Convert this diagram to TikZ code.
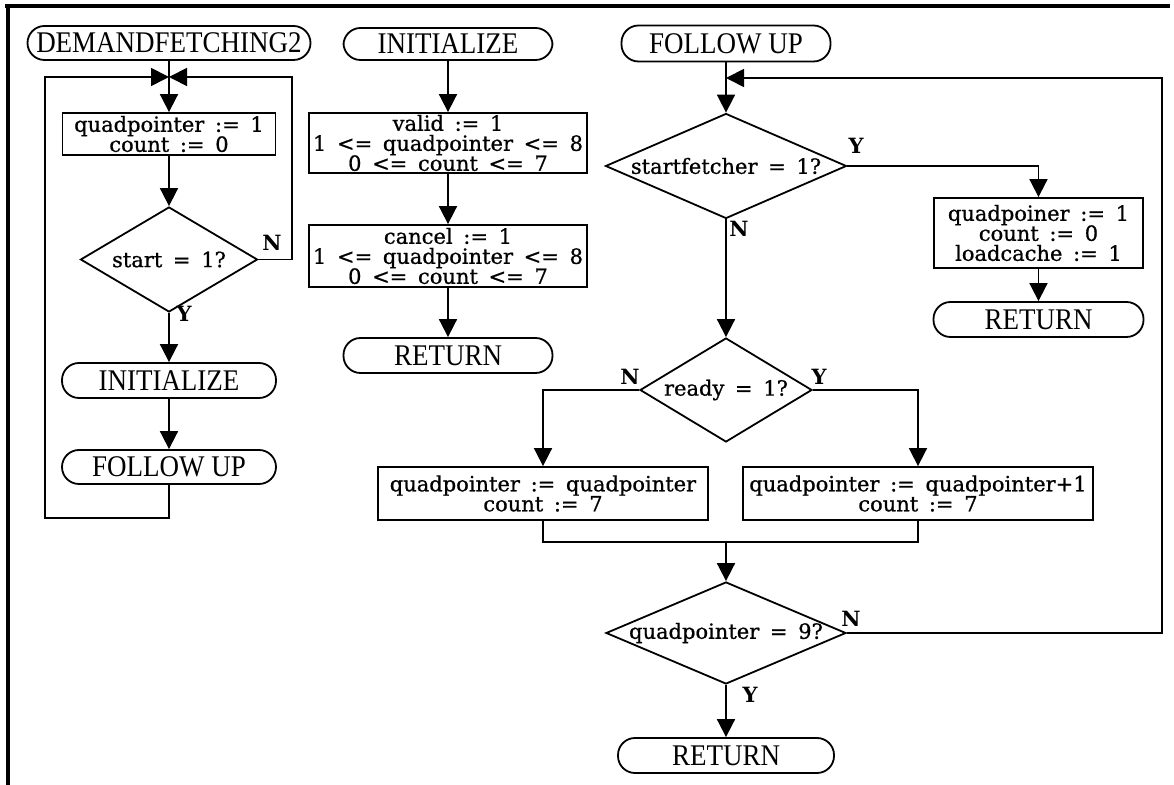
\documentclass[tikz,border=0pt]{standalone}
\usepackage{fontspec}
\setmainfont{DejaVu Serif}
\newfontfamily\termfont{Liberation Serif}[FakeStretch=0.9]
\newfontfamily\boxfont{DejaVu Serif}[FakeBold=0.8,WordSpace=1.6]
\usetikzlibrary{shapes.geometric,arrows.meta}

\tikzset{
  flow/.style={line width=0.9pt},
  arr/.style={flow,-{Triangle[length=9pt,width=9pt]}},
  term/.style={draw,flow,rectangle,rounded corners=8.5pt,inner sep=0pt,
    font=\termfont\fontsize{15}{15}\selectfont},
  procbox/.style={draw,flow,rectangle,inner sep=0pt,align=center,
    font=\boxfont\fontsize{10.5}{10}\selectfont},
  decide/.style={draw,flow,diamond,inner sep=0pt,
    font=\boxfont\fontsize{10.5}{10.5}\selectfont},
  yn/.style={inner sep=0pt,font=\bfseries\fontsize{10.5}{10.5}\selectfont},
  frameline/.style={line width=1.6pt}
}

\begin{document}
\begin{tikzpicture}[x=0.5pt,y=-0.5pt]
\useasboundingbox (0,0) rectangle (1174,785);

% page frame (top and left edges)
\draw[frameline] (5,6) -- (1170,6);
\draw[frameline] (8,5) -- (8,785);

% ---------------- DEMANDFETCHING2 ----------------
\node[term,minimum width=141.5pt,minimum height=17pt] (dfa) at (169,43) {DEMANDFETCHING2};
\coordinate (jL) at (169,77);
\coordinate (cLB) at (45,518);
\coordinate (cLR) at (292,77);
\node[procbox,minimum width=106.5pt,minimum height=21pt] (b1) at (169,134)
  {quadpointer := 1\\count := 0};
\node[decide,minimum width=88.5pt,minimum height=52.5pt] (d1) at (169,259.5)
  {\makebox[0pt]{start = 1?}};
\node[term,minimum width=107pt,minimum height=17.5pt] (t2) at (169,380.5) {INITIALIZE};
\node[term,minimum width=107pt,minimum height=17pt] (t3) at (169,467) {FOLLOW UP};
\node[yn] (n1) at (272,243) {N};
\node[yn] (y1) at (184,314) {Y};

\draw[flow] (dfa.south) -- (jL);
\draw[arr] (jL) -- (b1.north);
\draw[arr] (b1.south) -- (d1.north);
\draw[arr] (d1.south) -- (t2.north);
\draw[arr] (t2.south) -- (t3.north);
\draw[arr] (t3.south) |- (cLB) |- (jL);
\draw[arr] (d1.east) -| (cLR) -- (jL);

% ---------------- INITIALIZE ----------------
\node[term,minimum width=104.5pt,minimum height=16pt] (t4) at (448,44) {INITIALIZE};
\node[procbox,minimum width=139pt,minimum height=30pt] (b2) at (448,143)
  {valid := 1\\1 <= quadpointer <= 8\\0 <= count <= 7};
\node[procbox,minimum width=139pt,minimum height=31pt] (b3) at (448,256)
  {cancel := 1\\1 <= quadpointer <= 8\\0 <= count <= 7};
\node[term,minimum width=104.5pt,minimum height=17.5pt] (t5) at (448,355.5) {RETURN};

\draw[arr] (t4.south) -- (b2.north);
\draw[arr] (b2.south) -- (b3.north);
\draw[arr] (b3.south) -- (t5.north);

% ---------------- FOLLOW UP ----------------
\node[term,minimum width=104.5pt,minimum height=18pt] (t6) at (726,43.5) {FOLLOW UP};
\coordinate (jR) at (726,78);
\coordinate (cRR) at (1162,78);
\coordinate (mrg) at (726,542);
\node[decide,minimum width=120.5pt,minimum height=52.5pt] (d2) at (726,166)
  {\makebox[0pt]{startfetcher = 1?}};
\node[procbox,minimum width=104.5pt,minimum height=35pt] (b4) at (1038.5,233)
  {quadpoiner := 1\\count := 0\\loadcache := 1};
\node[term,minimum width=105pt,minimum height=17.5pt] (t7) at (1038.5,319.5) {RETURN};
\node[decide,minimum width=86pt,minimum height=52pt] (d3) at (726,390)
  {\makebox[0pt]{ready = 1?}};
\node[procbox,minimum width=165pt,minimum height=26.5pt] (b5) at (543,493.5)
  {quadpointer := quadpointer\\count := 7};
\node[procbox,minimum width=175pt,minimum height=26.5pt] (b6) at (918,493.5)
  {quadpointer := quadpointer+1\\count := 7};
\node[decide,minimum width=120pt,minimum height=51pt] (d4) at (726,633)
  {\makebox[0pt]{quadpointer = 9?}};
\node[term,minimum width=108pt,minimum height=17.5pt] (t8) at (726,755.5) {RETURN};

\node[yn] (y2) at (856,146) {Y};
\node[yn] (n2) at (739,229) {N};
\node[yn] (n3) at (630,377) {N};
\node[yn] (y3) at (819,377) {Y};
\node[yn] (n4) at (851,619) {N};
\node[yn] (y4) at (750,695) {Y};

\draw[flow] (t6.south) -- (jR);
\draw[arr] (jR) -- (d2.north);
\draw[arr] (d2.east) -| (b4.north);
\draw[arr] (b4.south) -- (t7.north);
\draw[arr] (d2.south) -- (d3.north);
\draw[arr] (d3.west) -| (b5.north);
\draw[arr] (d3.east) -| (b6.north);
\draw[flow] (b5.south) |- (mrg);
\draw[flow] (b6.south) |- (mrg);
\draw[arr] (mrg) -- (d4.north);
\draw[arr] (d4.south) -- (t8.north);
\draw[arr] (d4.east) -| (cRR) -- (jR);
\end{tikzpicture}
\end{document}
